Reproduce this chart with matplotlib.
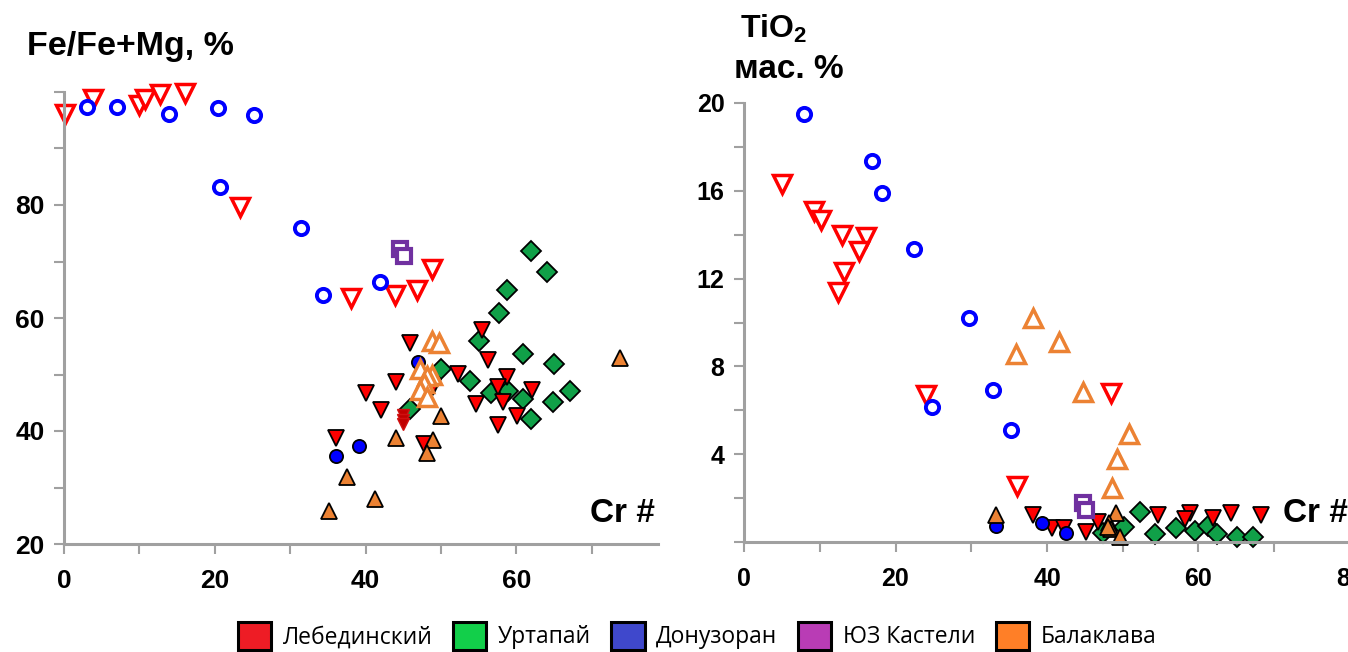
import matplotlib
matplotlib.use("Agg")
import matplotlib.pyplot as plt
from matplotlib.patches import Patch

plt.rcParams['font.family'] = ['Liberation Sans', 'DejaVu Sans']
plt.rcParams['mathtext.fontset'] = 'custom'
plt.rcParams['mathtext.bf'] = 'Liberation Sans:bold'
plt.rcParams['mathtext.rm'] = 'Liberation Sans:bold'

# --- левая диаграмма: Cr# vs Fe/Fe+Mg ---
leb_open_l_x = [0.1, 3.9, 9.9, 10.8, 12.8, 16.1, 23.4, 38.1, 43.9, 46.8, 48.8]
leb_open_l_y = [96.1, 98.7, 97.7, 98.7, 99.6, 99.8, 79.6, 63.6, 64.0, 65.0, 68.6]
don_open_l_x = [3.0, 7.0, 13.9, 20.4, 25.2, 20.7, 31.5, 34.4, 41.9]
don_open_l_y = [97.3, 97.3, 96.1, 97.1, 95.9, 83.1, 76.0, 64.1, 66.3]
kas_l_x = [44.6, 45.1]
kas_l_y = [72.3, 70.9]
urt_l_x = [62.0, 64.1, 58.8, 57.7, 55.0, 60.9, 65.0, 50.0, 53.8, 67.1, 56.6, 58.9, 60.9, 64.9, 62.0, 45.9]
urt_l_y = [71.8, 68.2, 64.9, 60.9, 55.9, 53.6, 51.9, 50.9, 48.8, 47.1, 46.7, 47.1, 45.7, 45.1, 42.1, 43.9]
leb_fill_l_x = [55.5, 45.9, 56.3, 52.3, 58.8, 44.0, 49.0, 57.6, 62.1, 40.1, 58.2, 54.6, 42.0, 60.1, 57.6, 36.1, 47.7]
leb_fill_l_y = [57.9, 55.6, 52.6, 50.1, 49.6, 48.7, 47.7, 47.7, 47.3, 46.7, 45.2, 44.8, 43.8, 42.6, 41.1, 38.7, 37.7]
leb_dark_l_x = [45.0, 45.0, 45.0]
leb_dark_l_y = [42.8, 42.0, 41.2]
don_fill_l_x = [47.0, 39.1, 36.1]
don_fill_l_y = [52.2, 37.3, 35.6]
bal_fill_l_x = [73.7, 50.0, 44.0, 49.0, 48.2, 37.5, 41.3, 35.2]
bal_fill_l_y = [53.0, 42.6, 38.7, 38.4, 36.1, 31.8, 27.9, 25.9]
bal_open_l_x = [48.8, 49.8, 47.2, 48.8, 48.1, 47.7, 47.2, 48.1]
bal_open_l_y = [55.9, 55.5, 50.9, 50.0, 49.7, 48.5, 47.3, 46.1]

# --- правая диаграмма: Cr# vs TiO2 ---
don_open_r_x = [7.9, 16.9, 18.2, 22.4, 29.7, 32.9, 24.8, 35.3]
don_open_r_y = [19.5, 17.35, 15.9, 13.36, 10.22, 6.92, 6.13, 5.1]
leb_open_r_x = [5.0, 9.2, 10.2, 12.9, 16.1, 15.2, 13.2, 12.4, 24.0, 48.4, 36.0]
leb_open_r_y = [16.3, 15.1, 14.65, 13.97, 13.9, 13.24, 12.3, 11.4, 6.69, 6.77, 2.56]
bal_open_r_x = [38.1, 41.6, 35.9, 44.7, 50.8, 49.2, 48.6]
bal_open_r_y = [10.22, 9.11, 8.55, 6.84, 4.9, 3.78, 2.44]
kas_r_x = [44.8, 45.1]
kas_r_y = [1.76, 1.46]
urt_r_x = [52.3, 50.2, 47.4, 54.3, 57.0, 59.5, 61.3, 62.5, 65.1, 67.2]
urt_r_y = [1.35, 0.67, 0.42, 0.36, 0.62, 0.51, 0.74, 0.36, 0.21, 0.24]
leb_fill_r_x = [54.7, 58.9, 58.2, 61.9, 64.3, 68.3, 38.2, 40.6, 42.3, 45.2, 46.7]
leb_fill_r_y = [1.23, 1.3, 1.03, 1.08, 1.3, 1.23, 1.23, 0.62, 0.62, 0.47, 0.92]
don_fill_r_x = [33.3, 39.4, 42.5]
don_fill_r_y = [0.73, 0.85, 0.42]
bal_fill_r_x = [33.3, 49.1, 48.2, 48.4, 49.6, 48.0]
bal_fill_r_y = [1.23, 1.3, 0.85, 0.6, 0.24, 0.7]

legend_names = ['Лебединский', 'Уртапай', 'Донузоран', 'ЮЗ Кастели', 'Балаклава']
legend_colors = ['#ee1c25', '#12cf4a', '#3f48cc', '#b93cb5', '#ff7f27']

RED = '#ff0000'
BLUE = '#0000ff'
GREEN = '#10a048'
ORANGE = '#ec8233'
PURPLE = '#7030a0'
AXC = '#a0a0a0'

fig = plt.figure(figsize=(13.48, 6.52), dpi=100)
axL = fig.add_axes([64 / 1348, 108 / 652, 594 / 1348, 452 / 652])
axR = fig.add_axes([744 / 1348, 110 / 652, 606 / 1348, 439 / 652])


def draw(ax, urt, lebf, donf, balf, balo, lebo, dono, kas, dark=None):
    ax.plot(*urt, 'D', ms=10.5, mfc=GREEN, mec='black', mew=1.3, ls='none')
    ax.plot(*lebf, 'v', ms=12, mfc=RED, mec='black', mew=1.3, ls='none')
    if dark is not None:
        ax.plot(*dark, 'v', ms=9, mfc='#c00000', mec='#d01010', mew=1, ls='none')
    ax.plot(*donf, 'o', ms=9.5, mfc=BLUE, mec='black', mew=1.3, ls='none')
    ax.plot(*balf, '^', ms=12, mfc=ORANGE, mec='black', mew=1.3, ls='none')
    ax.plot(*balo, '^', ms=13, mfc='white', mec=ORANGE, mew=2.5, ls='none')
    ax.plot(*lebo, 'v', ms=13, mfc='white', mec=RED, mew=2.5, ls='none')
    ax.plot(*dono, 'o', ms=9.5, mfc='white', mec=BLUE, mew=2.8, ls='none')
    ax.plot(*kas, 's', ms=9.5, mfc='white', mec=PURPLE, mew=3, ls='none')


draw(axL, (urt_l_x, urt_l_y), (leb_fill_l_x, leb_fill_l_y), (don_fill_l_x, don_fill_l_y),
     (bal_fill_l_x, bal_fill_l_y), (bal_open_l_x, bal_open_l_y), (leb_open_l_x, leb_open_l_y),
     (don_open_l_x, don_open_l_y), (kas_l_x, kas_l_y), dark=(leb_dark_l_x, leb_dark_l_y))
draw(axR, (urt_r_x, urt_r_y), (leb_fill_r_x, leb_fill_r_y), (don_fill_r_x, don_fill_r_y),
     (bal_fill_r_x, bal_fill_r_y), (bal_open_r_x, bal_open_r_y), (leb_open_r_x, leb_open_r_y),
     (don_open_r_x, don_open_r_y), (kas_r_x, kas_r_y))

axL.set_xlim(0, 78.8)
axL.set_ylim(20, 100)
axR.set_xlim(0, 80)
axR.set_ylim(0, 20)

axL.set_xticks(range(0, 80, 10))
axL.set_xticklabels([str(v) if v % 20 == 0 else '' for v in range(0, 80, 10)])
axL.set_yticks(range(20, 101, 10))
axL.set_yticklabels([str(v) if v in (20, 40, 60, 80) else '' for v in range(20, 101, 10)])
axR.set_xticks(range(0, 81, 10))
axR.set_xticklabels([str(v) if v % 20 == 0 else '' for v in range(0, 81, 10)])
axR.set_yticks(range(0, 21, 2))
axR.set_yticklabels([str(v) if v % 4 == 0 and v > 0 else '' for v in range(0, 21, 2)])

for ax in (axL, axR):
    for s in ('top', 'right'):
        ax.spines[s].set_visible(False)
    for s in ('left', 'bottom'):
        ax.spines[s].set_color(AXC)
        ax.spines[s].set_linewidth(2.2)
    ax.tick_params(direction='out', length=7, width=1.5, color=AXC,
                   labelsize=19, pad=7)
    for lab in ax.get_xticklabels() + ax.get_yticklabels():
        lab.set_fontweight('bold')
    ax.patch.set_alpha(0)
    for line in ax.lines:
        line.set_clip_on(False)

axL.tick_params(axis='x', pad=11)
axR.tick_params(labelsize=18)
axR.tick_params(axis='x', pad=11)

fig.text(27 / 1348, 1 - 46 / 652, 'Fe/Fe+Mg, %', fontsize=24.5, fontweight='bold',
         ha='left', va='center')
fig.text(590 / 1348, 1 - 513 / 652, 'Cr #', fontsize=24, fontweight='bold',
         ha='left', va='center')
fig.text(1283 / 1348, 1 - 514 / 652, 'Cr #', fontsize=24, fontweight='bold',
         ha='left', va='center')
fig.text(740 / 1348, 1 - 29 / 652, r'TiO$_\mathbf{2}$', fontsize=23, fontweight='bold',
         ha='left', va='center')
fig.text(734 / 1348, 1 - 70 / 652, 'мас. %', fontsize=24, fontweight='bold',
         ha='left', va='center')

handles = [Patch(facecolor=c, edgecolor='black', linewidth=2.2) for c in legend_colors]
fig.legend(handles, legend_names, loc='center', bbox_to_anchor=(0.517, 0.025),
           ncol=5, frameon=False, handlelength=1.45, handleheight=1.5,
           handletextpad=0.5, columnspacing=0.9,
           prop={'family': 'Open Sans', 'size': 16.5})

fig.savefig('out.png', dpi=100)
